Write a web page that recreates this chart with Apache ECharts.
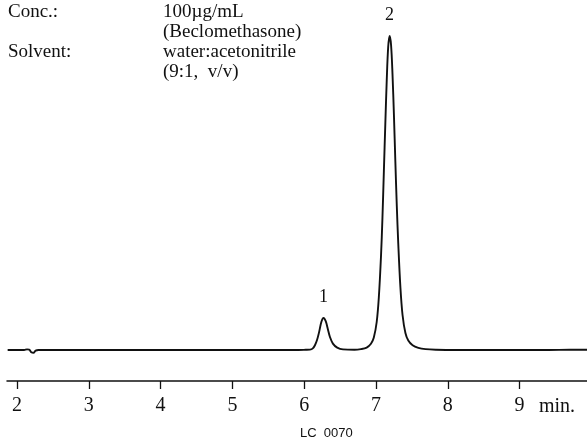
<!DOCTYPE html>
<html>
<head>
<meta charset="utf-8">
<style>
html,body{margin:0;padding:0;background:#fff;}
#chart{width:587px;height:444px;}
</style>
<script src="https://cdn.jsdelivr.net/npm/echarts@6/dist/echarts.min.js"></script>
</head>
<body>
<div id="chart"></div>
<script>
// x-axis tick labels (minutes)
var tickValues = [2, 3, 4, 5, 6, 7, 8, 9];

// chromatogram, times (min) and detector signal (arbitrary units, baseline = 0)
var times = [
  1.87, 2.00, 2.10, 2.14, 2.17, 2.20, 2.23, 2.26, 2.30, 3.00, 4.00, 5.00, 5.80, 5.92,
  6.02, 6.08, 6.12, 6.15, 6.18, 6.21, 6.24, 6.27, 6.30, 6.33, 6.36, 6.40, 6.46, 6.54,
  6.70, 6.79, 6.87, 6.93, 6.97, 7.01, 7.04, 7.07, 7.09, 7.11, 7.13, 7.15, 7.17, 7.19,
  7.21, 7.23, 7.25, 7.27, 7.29, 7.31, 7.34, 7.37, 7.41, 7.45, 7.51, 7.59, 7.69, 7.84,
  8.10, 8.60, 9.00, 9.40, 9.70, 9.94
];
var signal = [
  0, 0, 0, 0.6, 0.4, -2.2, -2.8, -0.6, 0, 0, 0, 0, 0, 0,
  0.2, 0.4, 1.6, 4.8, 10.2, 18.6, 28.2, 32, 28.8, 20.8, 12.8, 6.4, 2.4, 0.6,
  0.3, 0.9, 2.4, 6.2, 12.5, 28, 53, 94, 132, 179, 226, 270, 303, 314,
  305, 276, 235, 188, 144, 107, 63, 35, 17, 9.4, 4.7, 2.2, 0.9, 0.3,
  0, 0, 0, 0, 0.3, 0.3
];

// peak labels
var peakTimes = [6.27, 7.19];
var peakHeights = [32, 314];
var peakNames = ['1', '2'];

// top-left annotation text
var infoLabels = ['Conc.:', 'Solvent:'];
var infoValues = ['100\u00b5g/mL', '(Beclomethasone)', 'water:acetonitrile', '(9:1,  v/v)'];
var footer = 'LC  0070';
var axisUnit = 'min.';

var seriesData = times.map(function (t, i) { return [t, signal[i]]; });
var markData = peakTimes.map(function (t, i) {
  return { coord: [t, peakHeights[i]], value: peakNames[i] };
});

var serif = '"Liberation Serif", "Times New Roman", serif';
var chart = echarts.init(document.getElementById('chart'), null, { renderer: 'canvas' });

var graphics = [];
var infoY = [3, 23, 43, 63];
graphics.push({ type: 'text', left: 8, top: infoY[0], style: { text: infoLabels[0], font: '19px ' + serif, fill: '#111' } });
graphics.push({ type: 'text', left: 8, top: infoY[2], style: { text: infoLabels[1], font: '19px ' + serif, fill: '#111' } });
infoValues.forEach(function (s, i) {
  graphics.push({ type: 'text', left: 163, top: infoY[i], style: { text: s, font: '19px ' + serif, fill: '#111' } });
});
graphics.push({ type: 'text', left: 539, top: 397, style: { text: axisUnit, font: '20px ' + serif, fill: '#111' } });
graphics.push({ type: 'text', left: 300, top: 427, style: { text: footer, font: '13px "Liberation Sans", Arial, sans-serif', fill: '#111' } });

chart.setOption({
  animation: false,
  backgroundColor: '#fff',
  grid: { left: 7, right: 0, top: 0, bottom: 63, containLabel: false },
  xAxis: {
    type: 'value',
    min: 1.861,
    max: 9.939,
    axisLine: { show: true, onZero: false, lineStyle: { color: '#111', width: 1.5 } },
    axisTick: { show: true, inside: false, length: 8, customValues: tickValues, lineStyle: { color: '#111', width: 1.3 } },
    axisLabel: { show: true, customValues: tickValues, margin: 15, color: '#111', fontSize: 20, fontFamily: serif },
    splitLine: { show: false }
  },
  yAxis: {
    type: 'value',
    min: -31,
    max: 350,
    show: false,
    splitLine: { show: false }
  },
  series: [{
    type: 'line',
    data: seriesData,
    smooth: 0.35,
    symbol: 'none',
    lineStyle: { color: '#111', width: 1.9 },
    markPoint: {
      symbol: 'circle',
      symbolSize: 0,
      data: markData,
      label: {
        show: true,
        position: 'top',
        distance: 12,
        formatter: function (p) { return p.value; },
        color: '#111',
        fontSize: 18,
        fontFamily: serif
      }
    }
  }],
  graphic: graphics
});
</script>
</body>
</html>
